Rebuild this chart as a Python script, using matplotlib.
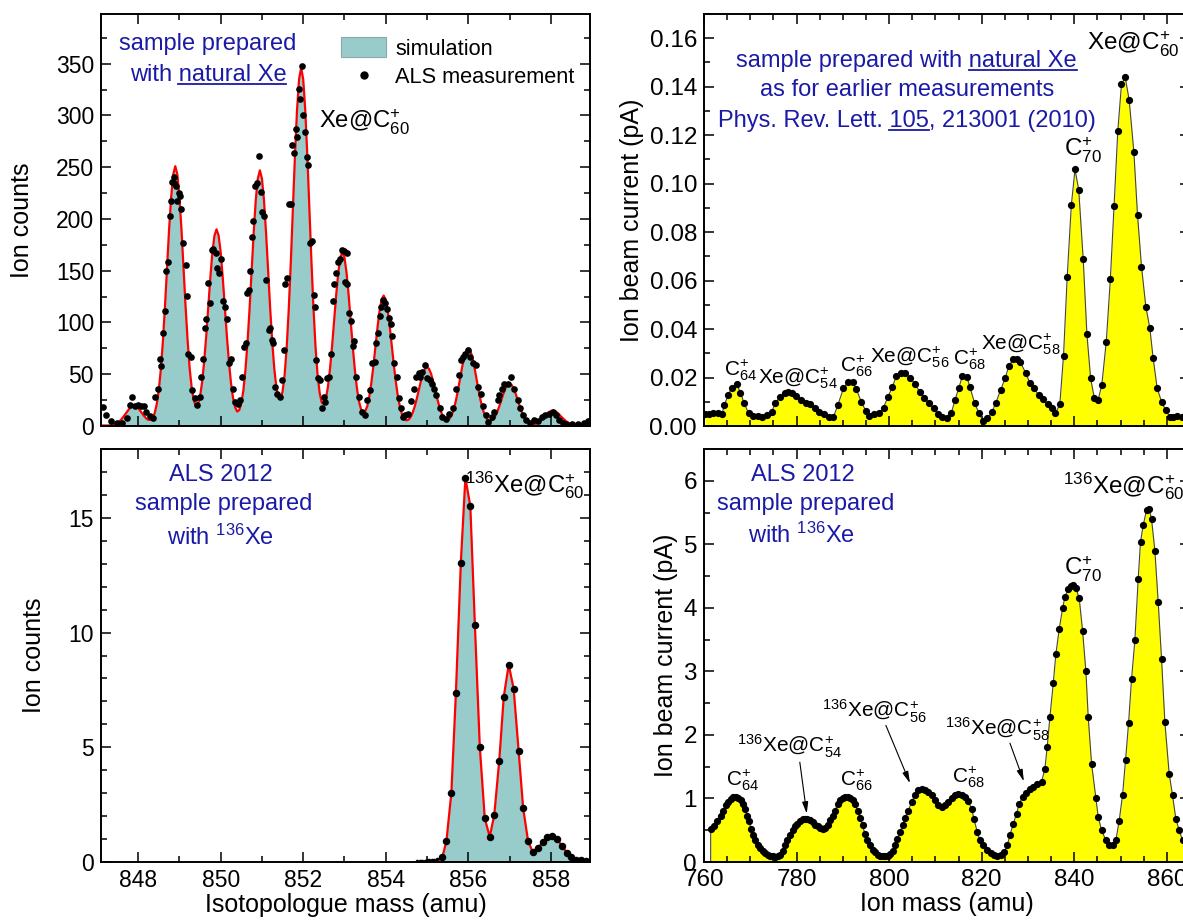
import numpy as np
import matplotlib
matplotlib.use('Agg')
import matplotlib.pyplot as plt
from matplotlib.ticker import MultipleLocator
from matplotlib.patches import Patch
from matplotlib.lines import Line2D

plt.rcParams['font.family'] = ['Liberation Sans', 'DejaVu Sans']
plt.rcParams['mathtext.default'] = 'regular'

# ---- top left: natural Xe, simulation (0.05 amu grid from 847.10) + ALS dots
sim_counts = [
    0.5, 0.5, 0.5, 0.5, 0.5, 0.9, 1.3, 2.0, 3.1, 4.6, 6.7, 9.2, 12.0, 14.8, 17.3, 18.9, 19.5, 18.9, 17.3, 14.8,
    12.0, 9.4, 7.2, 5.9, 5.9, 7.8, 12.3, 21, 34.5, 54.7, 82, 115, 152, 190, 221, 243, 251, 243, 221, 190,
    152, 115, 82, 55, 36, 24.5, 19.4, 21, 28.4, 42.3, 62.3, 87, 115, 143.5, 168, 184, 190, 184, 168, 143.5,
    115, 87, 62, 41.5, 27, 18, 14, 15.3, 22, 34.3, 54, 80.5, 113, 150, 186.5, 218, 239, 247, 239, 218,
    186.5, 150, 113.4, 81, 55, 37, 27.8, 26.1, 33.4, 49.4, 76, 113, 158.5, 210, 261, 305, 335, 346, 335, 305,
    261, 210, 158.6, 113, 75.5, 48.5, 31.6, 22.6, 21.4, 26.5, 38, 55.3, 77.2, 102, 127, 148, 163, 168, 163, 148,
    127, 102, 77, 55, 37, 24, 16.3, 13, 14, 18.8, 28, 41.3, 57.7, 76.5, 95, 111, 122, 126, 122, 111,
    95, 76.5, 57.7, 41, 27.3, 17.3, 10.7, 6.8, 5.4, 6.0, 8.3, 12.6, 18.5, 26, 34.6, 43, 50.3, 55.2, 57, 55.2,
    50.3, 43, 34.6, 26.2, 18.7, 12.7, 8.5, 6.3, 5.8, 7.3, 10.7, 16.5, 24.4, 34.4, 45.5, 56.6, 66.2, 72.7, 75, 72.7,
    66.2, 56.6, 45.5, 34.4, 24.5, 16.4, 10.6, 6.9, 5.1, 5.0, 6.3, 9.3, 13.5, 18.8, 24.9, 31, 36.2, 39.7, 41, 39.7,
    36.2, 31, 24.9, 18.8, 13.3, 8.9, 5.6, 3.5, 2.2, 1.6, 1.7, 2.2, 3.3, 4.9, 6.9, 9.1, 11.3, 13.2, 14.5, 15,
    14.5, 13.2, 11.3, 9.1, 7.2, 5.3, 3.7, 2.7, 2.2, 2.0, 2.0, 2.0, 2.0, 2.0, 2.0, 2.0, 2.1, 2.2, 2.3,
]
sim_mass = np.linspace(847.10, 859.00, len(sim_counts))

meas_mass = [
    847.14, 847.21, 847.35, 847.49, 847.61, 847.72, 847.80, 847.86, 847.93, 848.00, 848.07, 848.14, 848.20,
    848.28, 848.35, 848.42, 848.47, 848.54, 848.56, 848.61, 848.65, 848.68, 848.72, 848.76, 848.79, 848.82,
    848.86, 848.88, 848.91, 848.95, 848.98, 849.01, 849.04, 849.09, 849.15, 849.18, 849.21, 849.28, 849.30,
    849.37, 849.42, 849.49, 849.53, 849.58, 849.63, 849.65, 849.70, 849.75, 849.78, 849.82, 849.88, 849.91,
    849.97, 850.00, 850.05, 850.11, 850.16, 850.21, 850.25, 850.30, 850.35, 850.42, 850.47, 850.51, 850.56,
    850.61, 850.65, 850.68, 850.72, 850.75, 850.79, 850.82, 850.87, 850.93, 850.98, 851.01, 851.05, 851.09,
    851.17, 851.19, 851.24, 851.28, 851.32, 851.37, 851.43, 851.49, 851.54, 851.57, 851.60, 851.65, 851.70,
    851.74, 851.77, 851.82, 851.85, 851.89, 851.93, 851.98, 852.00, 852.05, 852.10, 852.12, 852.16, 852.21,
    852.26, 852.28, 852.31, 852.36, 852.40, 852.45, 852.50, 852.54, 852.58, 852.63, 852.67, 852.71, 852.75,
    852.80, 852.84, 852.89, 852.93, 852.98, 853.01, 853.05, 853.07, 853.12, 853.17, 853.20, 853.23, 853.29,
    853.35, 853.42, 853.49, 853.54, 853.61, 853.66, 853.73, 853.77, 853.82, 853.85, 853.89, 853.94, 853.99,
    854.03, 854.07, 854.12, 854.16, 854.21, 854.27, 854.33, 854.38, 854.42, 854.47, 854.54, 854.61, 854.68,
    854.73, 854.80, 854.84, 854.89, 854.96, 855.00, 855.08, 855.12, 855.17, 855.23, 855.31, 855.37, 855.45,
    855.54, 855.64, 855.71, 855.77, 855.82, 855.87, 855.93, 855.99, 856.05, 856.12, 856.19, 856.24, 856.31,
    856.36, 856.43, 856.49, 856.57, 856.63, 856.71, 856.75, 856.82, 856.87, 856.96, 857.03, 857.12, 857.20,
    857.26, 857.33, 857.40, 857.50, 857.59, 857.68, 857.78, 857.87, 857.96, 858.06, 858.12, 858.20, 858.29,
    858.38, 858.52, 858.66, 858.80, 858.89,
]
meas_counts = [
    18, 11, 5, 3, 3, 8, 20, 28, 19, 20, 19, 19, 14,
    10, 8, 28, 36, 65, 58, 90, 111, 150, 158, 203, 217, 236,
    241, 235, 232, 217, 225, 222, 210, 177, 156, 126, 70, 67, 35,
    27, 20, 28, 47, 65, 95, 103, 138, 119, 170, 171, 167, 153,
    148, 161, 121, 115, 103, 61, 65, 36, 23, 21, 25, 47, 76,
    80, 128, 131, 150, 183, 198, 232, 235, 261, 226, 207, 203, 141,
    93, 95, 83, 80, 38, 31, 28, 44, 73, 137, 143, 214, 214,
    271, 264, 287, 279, 326, 316, 348, 300, 284, 260, 252, 177, 179,
    127, 115, 64, 46, 44, 17, 28, 23, 46, 47, 70, 121, 137,
    148, 158, 161, 170, 169, 139, 167, 137, 109, 101, 77, 82, 47,
    28, 14, 11, 25, 35, 61, 62, 80, 90, 106, 115, 122, 119,
    113, 104, 99, 87, 61, 47, 27, 17, 9, 11, 12, 24, 36,
    47, 51, 47, 52, 59, 46, 44, 41, 36, 30, 17, 9, 7,
    12, 17, 36, 49, 64, 67, 70, 73, 67, 61, 59, 38, 31,
    19, 11, 4, 9, 14, 25, 30, 36, 41, 41, 47, 36, 25,
    17, 11, 6, 3, 6, 5, 9, 11, 12, 14, 11, 6, 3,
    2, 2, 2, 3, 5,
]

# ---- bottom left: 136Xe sample
bl_mass = [855.30, 855.37, 855.47, 855.59, 855.70, 855.82, 855.93, 856.05, 856.16, 856.28, 856.40, 856.52,
           856.63, 856.75, 856.86, 856.98, 857.10, 857.22, 857.33, 857.45, 857.56, 857.68, 857.80, 857.92,
           858.03, 858.15, 858.27, 858.39, 858.50, 858.62, 858.73, 858.85]
bl_counts = [0.1, 0.2, 0.9, 3.0, 7.35, 13.05, 16.75, 15.5, 10.35, 5.0, 1.9, 1.1,
             2.05, 4.4, 7.2, 8.6, 7.55, 4.85, 2.35, 0.9, 0.45, 0.6, 0.85, 1.1,
             1.15, 1.0, 0.7, 0.4, 0.2, 0.1, 0.07, 0.05]
bl_tail_mass = [854.76, 854.82, 854.88, 854.94, 855.00, 855.06, 855.12, 855.18, 855.24]
bl_tail_counts = [0.04, 0.05, 0.05, 0.06, 0.07, 0.07, 0.08, 0.10, 0.12]

# ---- top right: natural Xe, ion beam current (pA)
tr_mass = [
    760.24, 761.04, 762.01, 763.05, 763.86, 764.42, 765.22, 766.02, 767.07, 767.87, 768.67, 769.64, 770.60,
    771.65, 772.61, 773.65, 774.62, 775.42, 776.47, 777.43, 778.07, 779.04, 779.92, 780.88, 781.93, 782.89,
    783.94, 784.90, 785.86, 786.91, 787.95, 788.92, 790.12, 791.16, 792.13, 792.93, 793.98, 794.94, 795.74,
    796.79, 797.75, 798.80, 799.76, 800.72, 801.53, 802.57, 803.37, 804.58, 805.62, 806.59, 807.63, 808.59,
    809.64, 810.60, 811.41, 812.45, 813.41, 814.22, 815.02, 815.82, 816.79, 817.43, 818.47, 819.44, 820.24,
    821.20, 822.25, 823.05, 824.10, 825.06, 825.86, 826.83, 827.63, 828.27, 829.48, 830.44, 831.33, 832.29,
    833.25, 834.30, 835.10, 835.90, 836.87, 837.67, 838.47, 839.36, 840.16, 840.96, 841.93, 842.73, 843.53,
    844.34, 845.14, 845.94, 846.91, 847.79, 848.59, 849.40, 850.20, 851.00, 851.86, 852.87, 853.66, 854.52,
    855.46, 856.33, 857.04, 857.91, 858.85, 859.71, 860.65, 861.37, 862.23, 863.17, 864.00, 864.90,
]
tr_current = [
    0.0048, 0.0048, 0.0052, 0.0052, 0.0048, 0.0087, 0.0128, 0.0158, 0.0173, 0.0138, 0.0094, 0.0052, 0.0041,
    0.0041, 0.0039, 0.0045, 0.0059, 0.0094, 0.0121, 0.0138, 0.0142, 0.0135, 0.0124, 0.0107, 0.0096, 0.0089,
    0.0073, 0.0059, 0.0048, 0.0039, 0.0036, 0.0087, 0.0155, 0.0183, 0.0183, 0.0151, 0.0100, 0.0063, 0.0041,
    0.0048, 0.0052, 0.0076, 0.0121, 0.0162, 0.0206, 0.0217, 0.0220, 0.0199, 0.0172, 0.0142, 0.0117, 0.0094,
    0.0073, 0.0048, 0.0039, 0.0034, 0.0052, 0.0107, 0.0155, 0.0206, 0.0204, 0.0162, 0.0094, 0.0052, 0.0021,
    0.0032, 0.0059, 0.0096, 0.0149, 0.0197, 0.0248, 0.0275, 0.0275, 0.0266, 0.0220, 0.0176, 0.0155, 0.0128,
    0.0110, 0.0089, 0.0073, 0.0052, 0.0089, 0.0289, 0.0616, 0.0912, 0.1059, 0.0974, 0.0688, 0.0378, 0.0197,
    0.0114, 0.0107, 0.0169, 0.0348, 0.0605, 0.0908, 0.1217, 0.1411, 0.1439, 0.1345, 0.1132, 0.0871, 0.0658,
    0.0492, 0.0403, 0.0279, 0.0156, 0.0100, 0.0066, 0.0038, 0.0039, 0.0041, 0.0038, 0.0040, 0.0040,
]

# ---- bottom right: 136Xe sample, ion beam current (pA)
br_mass = [
    761.44, 762.16, 762.88, 763.60, 764.18, 764.75, 765.26, 765.76, 766.33, 766.91, 767.42, 767.92, 768.35,
    768.86, 769.36, 769.79, 770.15, 770.51, 771.02, 771.59, 772.10, 772.67, 773.17, 773.75, 774.25, 774.83,
    775.33, 775.91, 776.41, 776.99, 777.49, 778.00, 778.57, 779.15, 779.65, 780.16, 780.73, 781.31, 781.81,
    782.32, 782.89, 783.47, 783.97, 784.55, 785.05, 785.63, 786.13, 786.71, 787.21, 787.79, 788.29, 788.87,
    789.37, 789.95, 790.45, 791.03, 791.53, 792.11, 792.61, 793.19, 793.69, 794.27, 794.77, 795.28, 795.85,
    796.43, 796.93, 797.51, 798.01, 798.59, 799.09, 799.67, 800.17, 800.75, 801.25, 801.76, 802.33, 802.91,
    803.41, 804.13, 804.85, 805.57, 806.29, 807.01, 807.73, 808.45, 809.17, 809.89, 810.61, 811.33, 812.05,
    812.77, 813.49, 814.21, 814.93, 815.65, 816.37, 817.09, 817.81, 818.32, 819.04, 819.61, 820.33, 821.20,
    821.92, 822.63, 823.35, 824.08, 824.79, 825.51, 826.09, 826.81, 827.53, 828.11, 828.83, 829.55, 830.41,
    831.13, 831.99, 832.93, 833.65, 834.15, 834.73, 835.45, 836.03, 836.75, 837.47, 837.97, 838.69, 839.27,
    839.77, 840.35, 841.07, 841.79, 842.51, 843.01, 843.73, 844.67, 845.17, 845.89, 846.83, 847.54, 848.27,
    848.98, 849.70, 850.42, 851.07, 851.72, 852.37, 853.09, 853.81, 854.31, 854.89, 855.61, 856.18, 856.69,
    857.41, 858.13, 858.85, 859.57, 860.50, 861.22, 861.94, 862.66, 863.38, 864.10, 864.80,
]
br_current = [
    0.52, 0.56, 0.65, 0.73, 0.81, 0.89, 0.95, 0.995, 1.02, 1.02, 1.005, 0.97, 0.915,
    0.84, 0.73, 0.64, 0.52, 0.42, 0.34, 0.27, 0.22, 0.18, 0.145, 0.118, 0.10, 0.087,
    0.076, 0.087, 0.113, 0.18, 0.26, 0.34, 0.42, 0.50, 0.56, 0.60, 0.64, 0.67, 0.68,
    0.67, 0.655, 0.63, 0.59, 0.56, 0.54, 0.52, 0.54, 0.59, 0.655, 0.73, 0.81, 0.905,
    0.97, 1.005, 1.02, 1.02, 1.005, 0.97, 0.905, 0.81, 0.70, 0.575, 0.44, 0.35, 0.26,
    0.196, 0.155, 0.118, 0.097, 0.087, 0.087, 0.097, 0.13, 0.18, 0.26, 0.36, 0.47, 0.575,
    0.70, 0.81, 0.94, 1.06, 1.126, 1.15, 1.14, 1.10, 1.05, 0.97, 0.90, 0.865, 0.89,
    0.94, 1.003, 1.05, 1.07, 1.06, 1.02, 0.955, 0.84, 0.68, 0.47, 0.34, 0.26, 0.19,
    0.14, 0.11, 0.10, 0.11, 0.15, 0.26, 0.42, 0.60, 0.76, 0.92, 1.02, 1.09, 1.15,
    1.18, 1.22, 1.26, 1.47, 1.81, 2.28, 2.81, 3.28, 3.67, 3.99, 4.17, 4.30, 4.35,
    4.36, 4.31, 4.15, 3.64, 3.00, 2.28, 1.55, 1.00, 0.71, 0.50, 0.34, 0.26, 0.26,
    0.34, 0.65, 1.05, 1.60, 2.18, 2.88, 3.49, 4.46, 5.04, 5.30, 5.54, 5.56, 5.40,
    4.90, 4.09, 3.20, 2.20, 1.39, 1.05, 0.68, 0.50, 0.34, 0.25, 0.20,
]

BLUE = '#1a1aa6'
TEAL = '#98cccb'
FS_LAB = 18
FS_TXT = 17
FS_PEAK = 15      # small peak labels on the right
FS_BIG = 17.5     # C70 / Xe@C60 labels on the right

fig = plt.figure(figsize=(11.83, 9.22), dpi=100)
W, H = 1183, 922


def make_ax(l, t, r, b):
    return fig.add_axes([l / W, 1 - b / H, (r - l) / W, (b - t) / H])


ax_tl = make_ax(101, 14, 590, 426)
ax_bl = make_ax(101, 449, 590, 862)
ax_tr = make_ax(704, 14, 1190, 426)
ax_br = make_ax(704, 449, 1190, 862)

for ax, fs in ((ax_tl, 16.5), (ax_bl, 16.5), (ax_tr, 17.5), (ax_br, 17.5)):
    ax.tick_params(which='both', direction='in', top=True, right=True, width=1.1,
                   labelsize=fs, pad=5)
    ax.tick_params(which='major', length=7)
    ax.tick_params(which='minor', length=4)
    for s in ax.spines.values():
        s.set_linewidth(1.4)

# top left
ax_tl.fill_between(sim_mass, sim_counts, 0, color=TEAL, lw=0)
ax_tl.plot(sim_mass, sim_counts, color='red', lw=1.6)
ax_tl.plot(meas_mass, meas_counts, 'o', color='black', ms=4.8, mew=0)
ax_tl.set_xlim(847.1, 858.95)
ax_tl.set_ylim(0, 398)
ax_tl.xaxis.set_major_locator(MultipleLocator(2))
ax_tl.xaxis.set_minor_locator(MultipleLocator(1))
ax_tl.yaxis.set_major_locator(MultipleLocator(50))
ax_tl.yaxis.set_minor_locator(MultipleLocator(25))
ax_tl.tick_params(labelbottom=False)
ax_tl.set_ylabel('Ion counts', fontsize=FS_LAB, labelpad=16)
handles = [Patch(facecolor=TEAL, edgecolor='#8aa8a8', lw=0.8),
           Line2D([], [], ls='none', marker='o', color='black', ms=5)]
ax_tl.legend(handles, ['simulation', 'ALS measurement'], loc='upper left',
             bbox_to_anchor=(0.49, 0.943), frameon=False, fontsize=15.7,
             borderpad=0, borderaxespad=0, handlelength=2.1, handleheight=1.0,
             handletextpad=0.4, labelspacing=0.3)
ax_tl.text(852.38, 287, 'Xe@C$^{+}_{60}$', fontsize=17.2, ha='left', va='baseline')

# bottom left
ax_bl.fill_between(bl_mass, bl_counts, 0, color=TEAL, lw=0)
ax_bl.plot(bl_mass, bl_counts, color='red', lw=1.6)
ax_bl.plot(bl_mass[1:], bl_counts[1:], 'o', color='black', ms=5.4, mew=0)
ax_bl.plot(bl_tail_mass, bl_tail_counts, 'o', color='black', ms=2.6, mew=0)
ax_bl.set_xlim(847.1, 858.95)
ax_bl.set_ylim(0, 18)
ax_bl.xaxis.set_major_locator(MultipleLocator(2))
ax_bl.xaxis.set_minor_locator(MultipleLocator(1))
ax_bl.yaxis.set_major_locator(MultipleLocator(5))
ax_bl.yaxis.set_minor_locator(MultipleLocator(1))
ax_bl.set_ylabel('Ion counts', fontsize=FS_LAB, labelpad=16)
ax_bl.set_xlabel('Isotopologue mass (amu)', fontsize=FS_LAB, labelpad=1)
ax_bl.text(850.0, 16.6, 'ALS 2012', color=BLUE, fontsize=FS_TXT, ha='center', va='baseline')
ax_bl.text(850.08, 15.35, 'sample prepared', color=BLUE, fontsize=FS_TXT, ha='center', va='baseline')
ax_bl.text(850.0, 13.8, 'with $^{136}$Xe', color=BLUE, fontsize=FS_TXT, ha='center', va='baseline')
ax_bl.text(855.93, 16.1, '$^{136}$Xe@C$^{+}_{60}$', fontsize=17.2, ha='left', va='baseline')

# top right
ax_tr.fill_between(tr_mass, tr_current, 0, color='#ffff00', lw=0)
ax_tr.plot(tr_mass, tr_current, color='#444444', lw=0.8)
ax_tr.plot(tr_mass, tr_current, 'o', color='black', ms=5.2, mew=0)
ax_tr.set_xlim(760, 865)
ax_tr.set_ylim(0, 0.17)
ax_tr.xaxis.set_major_locator(MultipleLocator(20))
ax_tr.xaxis.set_minor_locator(MultipleLocator(5))
ax_tr.yaxis.set_major_locator(MultipleLocator(0.02))
ax_tr.yaxis.set_minor_locator(MultipleLocator(0.01))
ax_tr.yaxis.set_major_formatter('{x:.2f}')
ax_tr.tick_params(labelbottom=False)
ax_tr.set_ylabel('Ion beam current (pA)', fontsize=FS_LAB)

tr_labels = [
    (764.3, 0.021, 'C$^{+}_{64}$', FS_PEAK),
    (771.7, 0.0177, 'Xe@C$^{+}_{54}$', FS_PEAK),
    (789.4, 0.0223, 'C$^{+}_{66}$', FS_PEAK),
    (795.9, 0.026, 'Xe@C$^{+}_{56}$', FS_PEAK),
    (813.8, 0.0252, 'C$^{+}_{68}$', FS_PEAK),
    (819.8, 0.0314, 'Xe@C$^{+}_{58}$', FS_PEAK),
    (837.8, 0.111, 'C$^{+}_{70}$', FS_BIG),
    (842.7, 0.155, 'Xe@C$^{+}_{60}$', FS_BIG),
]
for x, y, s, fs in tr_labels:
    ax_tr.text(x, y, s, fontsize=fs, ha='left', va='baseline')

# bottom right
ax_br.fill_between(br_mass, br_current, 0, color='#ffff00', lw=0)
ax_br.plot([br_mass[0]] + br_mass, [0] + br_current, color='#444444', lw=0.8)
ax_br.plot(br_mass, br_current, 'o', color='black', ms=5.2, mew=0)
ax_br.set_xlim(760, 865)
ax_br.set_ylim(0, 6.5)
ax_br.xaxis.set_major_locator(MultipleLocator(20))
ax_br.xaxis.set_minor_locator(MultipleLocator(5))
ax_br.yaxis.set_major_locator(MultipleLocator(1))
ax_br.yaxis.set_minor_locator(MultipleLocator(0.5))
ax_br.set_ylabel('Ion beam current (pA)', fontsize=FS_LAB)
ax_br.set_xlabel('Ion mass (amu)', fontsize=FS_LAB, labelpad=1)
ax_br.text(781.4, 6.0, 'ALS 2012', color=BLUE, fontsize=FS_TXT, ha='center', va='baseline')
ax_br.text(782.0, 5.54, 'sample prepared', color=BLUE, fontsize=FS_TXT, ha='center', va='baseline')
ax_br.text(781.0, 5.02, 'with $^{136}$Xe', color=BLUE, fontsize=FS_TXT, ha='center', va='baseline')

br_labels = [
    (764.75, 1.2, 'C$^{+}_{64}$', FS_PEAK),
    (767.1, 1.72, '$^{136}$Xe@C$^{+}_{54}$', FS_PEAK),
    (789.4, 1.2, 'C$^{+}_{66}$', FS_PEAK),
    (785.5, 2.28, '$^{136}$Xe@C$^{+}_{56}$', FS_PEAK),
    (813.6, 1.25, 'C$^{+}_{68}$', FS_PEAK),
    (812.1, 1.99, '$^{136}$Xe@C$^{+}_{58}$', FS_PEAK),
    (837.8, 4.51, 'C$^{+}_{70}$', FS_BIG),
    (837.5, 5.8, '$^{136}$Xe@C$^{+}_{60}$', FS_BIG),
]
for x, y, s, fs in br_labels:
    ax_br.text(x, y, s, fontsize=fs, ha='left', va='baseline')

arrows = [((780.7, 1.57), (782.2, 0.76)),
          ((799.3, 2.15), (804.5, 1.24)),
          ((826.1, 1.87), (829.1, 1.27))]
for start, end in arrows:
    ax_br.annotate('', xy=end, xytext=start,
                   arrowprops=dict(arrowstyle='-|>,head_length=0.7,head_width=0.18',
                                   color='black', lw=0.8, shrinkA=0, shrinkB=0))

# blue notes with underlined parts
fig.canvas.draw()
renderer = fig.canvas.get_renderer()


def text_width(s, size):
    t = fig.text(0, 0, s, fontsize=size)
    w = t.get_window_extent(renderer).width
    t.remove()
    return w


def underlined_line(ax, x, y, before, word, after):
    full = before + word + after
    t = ax.text(x, y, full, color=BLUE, fontsize=FS_TXT, ha='center', va='baseline')
    bb = t.get_window_extent(renderer)
    wa = text_width(before + word, FS_TXT)
    ww = text_width(word, FS_TXT)
    base = ax.transData.transform((x, y))[1] - 3
    x0, x1 = bb.x0 + wa - ww, bb.x0 + wa
    p0 = fig.transFigure.inverted().transform((x0, base))
    p1 = fig.transFigure.inverted().transform((x1, base))
    fig.add_artist(Line2D([p0[0], p1[0]], [p0[1], p1[1]], color=BLUE, lw=1.3,
                          transform=fig.transFigure))


ax_tl.text(849.69, 363, 'sample prepared', color=BLUE, fontsize=FS_TXT, ha='center', va='baseline')
underlined_line(ax_tl, 849.69, 333, 'with ', 'natural Xe', '')
underlined_line(ax_tr, 803.8, 0.148, 'sample prepared with ', 'natural Xe', '')
ax_tr.text(803.8, 0.136, 'as for earlier measurements', color=BLUE, fontsize=FS_TXT,
           ha='center', va='baseline')
underlined_line(ax_tr, 803.8, 0.1235, 'Phys. Rev. Lett. ', '105', ', 213001 (2010)')

fig.savefig('out.png', dpi=100)
